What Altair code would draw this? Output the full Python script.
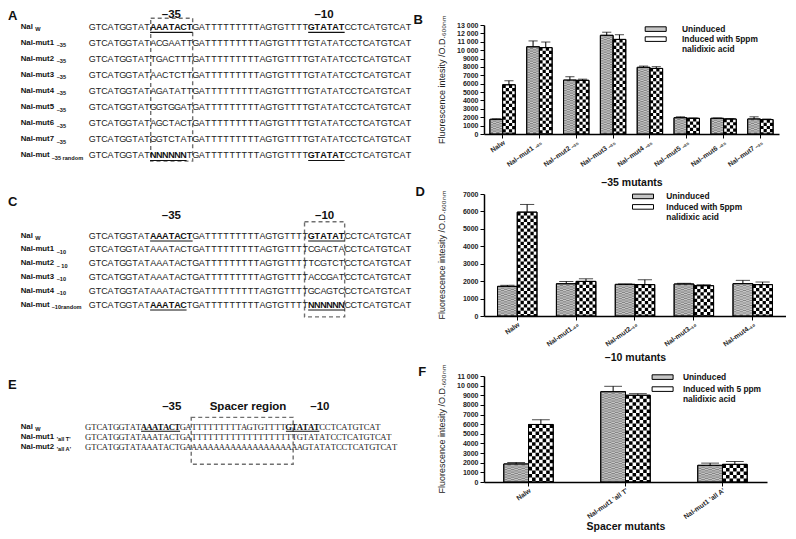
import altair as alt
import pandas as pd

FONT = "Liberation Sans"
SERIF = "Liberation Serif"
INK = "#222222"

# ---------------- sequence data (panels A, C, E) ----------------
PREFIX = "GTCATGGTAT"
SPACER = "GATTTTTTTTTAGTGTTTT"
SUFFIX = "CCTCATGTCAT"
WT35 = "AAATAC"
WT10 = "GTATAT"

A_NAMES = ["Nal", "Nal-mut1", "Nal-mut2", "Nal-mut3", "Nal-mut4", "Nal-mut5", "Nal-mut6", "Nal-mut7", "Nal-mut"]
A_SUBS = ["W", "–35", "–35", "–35", "–35", "–35", "–35", "–35", "–35 random"]
A_KIND = ["w", "n", "n", "n", "n", "n", "n", "n", "r"]
A_HEX35 = ["AAATAC", "ACGAAT", "TGACTT", "AACTCT", "AGATAT", "GGTGGA", "AGCTAC", "GGTCTA", "NNNNNN"]
A_BOLD = [(0, 10, 17), (0, 36, 42), (8, 10, 16), (8, 36, 42)]
A_BOX = [10.1, 17.0]
A_HEAD = ["–35", "–10"]
A_HEAD_AT = [13.5, 38.6]

C_NAMES = ["Nal", "Nal-mut1", "Nal-mut2", "Nal-mut3", "Nal-mut4", "Nal-mut"]
C_SUBS = ["W", "–10", "– 10", "–10", "–10", "–10random"]
C_KIND = ["w", "n", "n", "n", "n", "r"]
C_HEX10 = ["GTATAT", "CGACTA", "TCGTCT", "ACCGAT", "GCAGTC", "NNNNNN"]
C_BOLD = [(0, 10, 17), (0, 36, 42), (5, 10, 16), (5, 36, 42)]
C_BOX = [35.4, 42.0]
C_HEAD = ["–35", "–10"]
C_HEAD_AT = [13.5, 38.7]

E_NAMES = ["Nal", "Nal-mut1", "Nal-mut2"]
E_SUBS = ["W", "'all T'", "'all A'"]
E_KIND = ["w", "n", "n"]
E_SEQS = [
    "GTCATGGTATAAATACTGATTTTTTTTTAGTGTTTTGTATATCCTCATGTCAT",
    "GTCATGGTATAAATACTGATTTTTTTTTTTTTTTTTTTGTATATCCTCATGTCAT",
    "GTCATGGTATAAATACTGAAAAAAAAAAAAAAAAAAAAAGTATATCCTCATGTCAT",
]
E_BOLD = [(0, 10, 17), (0, 36, 42)]
E_BOX = [19.0, 37.3]
E_HEAD = ["–35", "Spacer region", "–10"]
E_HEAD_AT = [15.5, 29.2, 42.1]

A_SEQS = [PREFIX + h + "T" + SPACER + WT10 + SUFFIX for h in A_HEX35]
C_SEQS = [PREFIX + WT35 + "T" + SPACER + h + SUFFIX for h in C_HEX10]

# ---------------- bar data (panels B, D, F) ----------------
GROUPS = ["Uninduced", "Induced"]

B_CATS = ["Nalw", "Nal–mut1 ₋₃₅", "Nal–mut2 ₋₃₅", "Nal–mut3 ₋₃₅", "Nal–mut4 ₋₃₅",
          "Nal–mut5 ₋₃₅", "Nal–mut6 ₋₃₅", "Nal–mut7 ₋₃₅"]
B_UNIND = [1750, 10400, 6430, 11770, 7950, 1940, 1870, 1790]
B_UNIND_ERR = [60, 700, 400, 370, 150, 110, 40, 260]
B_IND = [5870, 10300, 6400, 11280, 7820, 1870, 1790, 1720]
B_IND_ERR = [480, 670, 140, 560, 210, 40, 40, 70]

D_CATS = ["Nalw", "Nal-mut1₋₁₀", "Nal-mut2₋₁₀", "Nal-mut3₋₁₀", "Nal-mut4₋₁₀"]
D_UNIND = [1700, 1850, 1815, 1835, 1855]
D_UNIND_ERR = [60, 130, 25, 40, 190]
D_IND = [5960, 1985, 1800, 1740, 1800]
D_IND_ERR = [440, 150, 280, 55, 150]

F_CATS = ["Nalw", "Nal-mut1 'all T'", "Nal-mut1 'all A'"]
F_UNIND = [1870, 9370, 1730]
F_UNIND_ERR = [160, 560, 230]
F_IND = [5970, 9000, 1830]
F_IND_ERR = [500, 170, 300]

Y_TITLE = "Fluorescence intesity /O.D.₆₀₀ₙₘ"

# ---------------- layout ----------------
LEFT_W = 400
HEIGHTS = [109, 122, 106]
ROW_SP = 60
COL_SP = 76

LA = dict(H=HEIGHTS[0], x0=81.3, cw=6.08, a=1.9, s=16.02, pad=(0.54, 0.38), letter_y=-9.0,
          head_y=-9.6, font=FONT, size=9, name_x=12.7, ul=5.5)
LC = dict(H=HEIGHTS[1], x0=81.3, cw=6.08, a=41.5, s=13.8, pad=(1.0, 0.9), letter_y=7.6,
          head_y=21.6, font=FONT, size=9, name_x=12.7, ul=5.5)
LE = dict(H=HEIGHTS[2], x0=77.4, cw=5.57, a=50.5, s=10.13, pad=(0.9, 1.72), letter_y=8.5,
          head_y=31.0, font=SERIF, size=8.6, name_x=12.7, ul=4.8)

SUB_DX = {"w": 14.5, "n": 36.0, "r": 31.0}


def seq_panel(letter, names, subs, kinds, seqs, bold, box, heads, head_at, L):
    recs = []
    for r, s in enumerate(seqs):
        for i, ch in enumerate(s):
            b = any(rr == r and st <= i < en for rr, st, en in bold)
            recs.append({"row": r, "xc": i + 0.5, "ch": ch, "bold": int(b)})
    chars = pd.DataFrame(recs)
    n = len(seqs)
    xs = alt.Scale(domain=[-L["x0"] / L["cw"], (LEFT_W - L["x0"]) / L["cw"]], nice=False, zero=False)
    ys = alt.Scale(domain=[-L["a"] / L["s"], (L["H"] - L["a"]) / L["s"]], nice=False, zero=False,
                   reverse=True)

    def X(f):
        return alt.X(f, scale=xs, axis=None)

    def Y(f):
        return alt.Y(f, scale=ys, axis=None)

    boxdf = pd.DataFrame([{"x0": box[0], "x1": box[1], "y0": -L["pad"][0], "y1": n - 1 + L["pad"][1]}])
    box_l = alt.Chart(boxdf).mark_rect(fillOpacity=0, stroke="#707070", strokeWidth=1.4,
                                       strokeDash=[4, 3]).encode(
        x=X("x0:Q"), x2="x1:Q", y=Y("y0:Q"), y2="y1:Q")
    normal = alt.Chart(chars).transform_filter("datum.bold == 0").mark_text(
        font=L["font"], fontSize=L["size"], color=INK, baseline="middle").encode(
        x=X("xc:Q"), y=Y("row:Q"), text="ch:N")
    strong = alt.Chart(chars).transform_filter("datum.bold == 1").mark_text(
        font=L["font"], fontSize=L["size"], fontWeight="bold", color="#111", baseline="middle").encode(
        x=X("xc:Q"), y=Y("row:Q"), text="ch:N")
    uldf = pd.DataFrame([{"row": r, "st": st, "en": en} for r, st, en in bold])
    ul = alt.Chart(uldf).mark_rule(color="#111", strokeWidth=1.1, yOffset=L["ul"]).encode(
        x=X("st:Q"), x2="en:Q", y=Y("row:Q"))
    ndf = pd.DataFrame({"row": list(range(n)), "main": names, "sub": subs, "kind": kinds})
    nm = alt.Chart(ndf).mark_text(font=FONT, fontSize=7.8, fontWeight="bold", color="#111",
                                  align="left", baseline="middle").encode(
        x=alt.value(L["name_x"]), y=Y("row:Q"), text="main:N")
    layers = [box_l, normal, strong, ul, nm]
    for k, dx in SUB_DX.items():
        layers.append(alt.Chart(ndf).transform_filter(f"datum.kind == '{k}'").mark_text(
            font=FONT, fontSize=5.6, fontWeight="bold", color="#111", align="left",
            baseline="middle", dx=dx, dy=2.5).encode(
            x=alt.value(L["name_x"]), y=Y("row:Q"), text="sub:N"))
    hdf = pd.DataFrame({"t": heads, "x": head_at})
    layers.append(alt.Chart(hdf).mark_text(font=FONT, fontSize=11.5, fontWeight="bold", color="#111",
                                           baseline="middle").encode(
        x=X("x:Q"), y=alt.value(L["head_y"]), text="t:N"))
    layers.append(alt.Chart(pd.DataFrame({"t": [letter]})).mark_text(
        font=FONT, fontSize=13, fontWeight="bold", color="#111", align="left", baseline="middle").encode(
        x=alt.value(0), y=alt.value(L["letter_y"]), text="t:N"))
    return alt.layer(*layers).properties(width=LEFT_W, height=L["H"])


def ylabel_expr():
    return ("datum.value >= 10000 ? replace(format(datum.value, ','), ',', ' ') : "
            "format(datum.value, 'd')")


def bar_panel(letter, cats, un, un_e, ind, ind_e, xtitle, induced_txt, P):
    rows = []
    for c, u, ue, v, ve in zip(cats, un, un_e, ind, ind_e):
        rows.append({"cat": c, "g": "Uninduced", "v": u, "e": ue})
        rows.append({"cat": c, "g": "Induced", "v": v, "e": ve})
    df = pd.DataFrame(rows)
    cols = P["cols"]
    tex = []
    for rec in rows:
        gi = GROUPS.index(rec["g"])
        for k in range(cols):
            tex.append({"cat": rec["cat"], "g": rec["g"], "v": rec["v"], "slot": gi * cols + k, "par": k % 2})
    tex = pd.DataFrame(tex)

    n = len(cats)
    step = P["W"] / (n - P["pi"] + 2 * P["po"])
    barw = step * (1 - P["pi"]) / 2
    colw = barw / cols

    xaxis = alt.Axis(title=xtitle, labelAngle=325, labelAlign="right", labelBaseline="top",
                     labelFont=FONT, labelFontSize=6.8, labelFontWeight="bold", labelColor=INK,
                     domainColor="black", domainWidth=1.5, tickColor="black", tickSize=4,
                     labelPadding=1, titleFont=FONT, titleFontSize=10.5, titleFontWeight="bold",
                     titleColor="#111", titlePadding=P["xtp"], labelLimit=0)
    yaxis = alt.Axis(title=Y_TITLE, values=list(range(0, P["ymax"] + 1, 1000)), labelExpr=ylabel_expr(),
                     labelFont=FONT, labelFontSize=7, labelFontWeight="bold", labelColor=INK,
                     domainColor="black", domainWidth=1.5, tickColor="black", tickSize=4, labelPadding=2,
                     titleFont=FONT, titleFontSize=9, titleFontWeight="normal", titleColor=INK,
                     titlePadding=P["ytp"], grid=False)
    X = alt.X("cat:N", sort=cats, scale=alt.Scale(domain=cats, paddingInner=P["pi"], paddingOuter=P["po"]),
              axis=xaxis)
    ysc = alt.Scale(domain=[0, P["ymax"]], nice=False, zero=True)
    XO = alt.XOffset("g:N", scale=alt.Scale(domain=GROUPS, paddingInner=0, paddingOuter=0))
    SO = alt.XOffset("slot:N", scale=alt.Scale(domain=list(range(2 * cols)), paddingInner=0, paddingOuter=0))

    lab = (f"datum.label == 'Induced' ? ['{induced_txt}', 'nalidixic acid'] : datum.label")
    legend = alt.Legend(title=None, orient="none", legendX=P["lx"], legendY=P["ly"],
                        symbolType="M-2.1,-0.46H2.1V0.46H-2.1Z", symbolSize=100,
                        symbolStrokeColor="black", symbolStrokeWidth=1, labelFont=FONT,
                        labelFontSize=8.4, labelFontWeight="bold", labelColor="#111",
                        labelOffset=P["lo"], rowPadding=P["rp"], labelExpr=lab, labelLimit=0)

    bars = alt.Chart(df).mark_bar(stroke="black", strokeWidth=1).encode(
        x=X, xOffset=XO, y=alt.Y("v:Q", scale=ysc, axis=yaxis),
        color=alt.Color("g:N", scale=alt.Scale(domain=GROUPS, range=["#c6c6c6", "#ffffff"]), legend=legend))

    def texture(group, par, color, dash, off):
        return alt.Chart(tex).transform_filter(
            f"datum.g == '{group}' && datum.par == {par}").mark_rule(
            color=color, strokeWidth=colw, strokeDash=dash, strokeDashOffset=off).encode(
            x=X, xOffset=SO, y=alt.Y("v:Q", scale=ysc, axis=yaxis), y2=alt.datum(0))

    t1 = texture("Uninduced", 0, "#858585", [1.2, 1.3], 0)
    t2 = texture("Uninduced", 1, "#858585", [1.2, 1.3], 1.25)
    t3 = texture("Induced", 0, "#000000", [colw, colw], 0)
    t4 = texture("Induced", 1, "#000000", [colw, colw], colw)

    outline = alt.Chart(df).mark_bar(fillOpacity=0, stroke="black", strokeWidth=1).encode(
        x=X, xOffset=XO, y=alt.Y("v:Q", scale=ysc, axis=yaxis))
    err = alt.Chart(df).transform_calculate(top="datum.v + datum.e").mark_rule(
        color="black", strokeWidth=1).encode(
        x=X, xOffset=XO, y=alt.Y("v:Q", scale=ysc, axis=yaxis), y2="top:Q")
    cap = alt.Chart(df).transform_calculate(top="datum.v + datum.e").mark_tick(
        color="black", thickness=1, size=barw * 0.72).encode(
        x=X, xOffset=XO, y=alt.Y("top:Q", scale=ysc, axis=yaxis))
    let = alt.Chart(pd.DataFrame({"t": [letter]})).mark_text(
        font=FONT, fontSize=13, fontWeight="bold", color="#111", baseline="middle").encode(
        x=alt.value(P["letx"]), y=alt.value(P["lety"]), text="t:N")
    return alt.layer(bars, t1, t2, t3, t4, outline, err, cap, let).resolve_scale(
        xOffset="independent").properties(width=P["W"], height=P["H"])


PB = dict(W=295, H=HEIGHTS[0], pi=0.31, po=0.16, cols=4, ymax=13000, letx=-65.7, lety=-4.8,
          lx=166.2, ly=-1.4, lo=20.8, rp=0, xtp=10, ytp=10)
PD = dict(W=302, H=HEIGHTS[1], pi=0.33, po=0.23, cols=6, ymax=7000, letx=-63.7, lety=-1.9,
          lx=153.5, ly=-3.1, lo=17.8, rp=0.5, xtp=5, ytp=16)
PF = dict(W=283, H=HEIGHTS[2], pi=0.49, po=0.204, cols=7, ymax=11000, letx=-61.8, lety=-3.9,
          lx=173.1, ly=-4.4, lo=14.8, rp=2, xtp=1, ytp=10)

A = seq_panel("A", A_NAMES, A_SUBS, A_KIND, A_SEQS, A_BOLD, A_BOX, A_HEAD, A_HEAD_AT, LA)
C = seq_panel("C", C_NAMES, C_SUBS, C_KIND, C_SEQS, C_BOLD, C_BOX, C_HEAD, C_HEAD_AT, LC)
E = seq_panel("E", E_NAMES, E_SUBS, E_KIND, E_SEQS, E_BOLD, E_BOX, E_HEAD, E_HEAD_AT, LE)

B = bar_panel("B", B_CATS, B_UNIND, B_UNIND_ERR, B_IND, B_IND_ERR, "–35 mutants", "Induced with 5ppm", PB)
D = bar_panel("D", D_CATS, D_UNIND, D_UNIND_ERR, D_IND, D_IND_ERR, "–10 mutants", "Induced with 5ppm", PD)
F = bar_panel("F", F_CATS, F_UNIND, F_UNIND_ERR, F_IND, F_IND_ERR, "Spacer mutants", "Induced with 5 ppm", PF)

chart = alt.concat(A, B, C, D, E, F, columns=2, spacing={"row": ROW_SP, "column": COL_SP},
                   bounds="flush").resolve_scale(color="independent").resolve_legend(
    color="independent").properties(
    padding={"top": 1, "left": 0, "right": 0, "bottom": 0}, background="white"
).configure_view(stroke=None).configure_axis(grid=False)

chart.save("out.html", embed_options={"renderer": "svg", "actions": False})
